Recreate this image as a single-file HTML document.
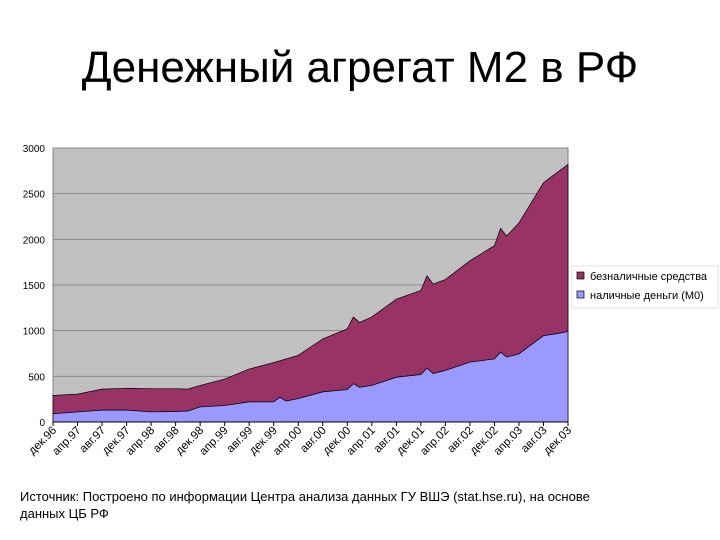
<!DOCTYPE html>
<html><head><meta charset="utf-8"><style>
body{margin:0;width:720px;height:540px;background:#fff;font-family:"Liberation Sans",sans-serif;overflow:hidden;position:relative}
.t{position:absolute;left:0;width:720px;top:43px;text-align:center;font-size:44px;color:#000}
.src{position:absolute;left:20px;top:488px;font-size:13px;line-height:17px;color:#000}
</style></head><body>
<div class="t">Денежный агрегат М2 в РФ</div>
<svg id="c" width="720" height="540" style="position:absolute;left:0;top:0"></svg>
<div class="src">Источник: Построено по информации Центра анализа данных ГУ ВШЭ (stat.hse.ru), на основе<br>данных ЦБ РФ</div>
<script>
var L=53,R=568,Y0=422,K=274/3000;
function X(m){return L+m*(R-L)/84}
function Y(v){return Y0-v*K}
var tot=[[0,290],[4,305],[8,360],[12,370],[16,365],[20,365],[22,360],[24,400],[28,470],[32,580],[36,650],[40,730],[44,910],[48,1020],[49,1150],[50,1090],[52,1150],[56,1345],[60,1440],[61,1600],[62,1510],[64,1560],[68,1765],[72,1930],[73,2120],[74,2036],[76,2180],[80,2620],[82,2720],[84,2820]];
var m0=[[0,90],[1,95],[4,110],[8,130],[12,130],[16,110],[20,115],[22,120],[24,165],[28,180],[32,220],[36,220],[37,270],[38,230],[40,255],[44,330],[48,355],[49,420],[50,380],[52,400],[56,490],[60,520],[61,590],[62,530],[64,565],[68,655],[72,690],[73,765],[74,710],[76,745],[80,945],[82,965],[84,990]];
var s='';
s+='<rect x="'+L+'" y="'+Y(3000)+'" width="'+(R-L)+'" height="'+(3000*K)+'" fill="#c0c0c0" stroke="#808080"/>';
for(var v=0;v<=3000;v+=500){s+='<line x1="'+L+'" x2="'+R+'" y1="'+Y(v)+'" y2="'+Y(v)+'" stroke="#8a8a8a" stroke-width="1"/>';
s+='<text x="45" y="'+(Y(v)+4)+'" text-anchor="end" font-size="10" fill="#000">'+v+'</text>';}
function poly(a,base,fill){var p=a.map(function(q){return X(q[0])+','+Y(q[1])});var b=base.slice().reverse().map(function(q){return X(q[0])+','+Y(q[1])});return '<polygon points="'+p.join(' ')+' '+b.join(' ')+'" fill="'+fill+'" stroke="#000" stroke-width="0.7"/>';}
s+=poly(tot,m0,'#993366');
s+=poly(m0,[[0,0],[84,0]],'#9999ff');
s+='<line x1="'+L+'" x2="'+R+'" y1="'+Y0+'" y2="'+Y0+'" stroke="#000"/>';
var lab=['дек.96','апр.97','авг.97','дек.97','апр.98','авг.98','дек.98','апр.99','авг.99','дек.99','апр.00','авг.00','дек.00','апр.01','авг.01','дек.01','апр.02','авг.02','дек.02','апр.03','авг.03','дек.03'];
for(var i=0;i<lab.length;i++){var x=X(i*4);s+='<line x1="'+x+'" x2="'+x+'" y1="'+Y0+'" y2="'+(Y0+4)+'" stroke="#000"/>';
s+='<text transform="translate('+(x+4)+','+(Y0+9)+') rotate(-45)" text-anchor="end" font-size="11.5" fill="#000">'+lab[i]+'</text>';}
s+='<rect x="572" y="266" width="146" height="42" fill="#fff" stroke="#e0e0e0"/>';
s+='<rect x="577" y="272" width="7" height="7" fill="#993366" stroke="#000" stroke-width="0.7"/><text x="590" y="280" font-size="11">безналичные средства</text>';
s+='<rect x="577" y="291" width="7" height="7" fill="#9999ff" stroke="#000" stroke-width="0.7"/><text x="590" y="299" font-size="11">наличные деньги (М0)</text>';
document.getElementById('c').innerHTML=s;
</script>
</body></html>
